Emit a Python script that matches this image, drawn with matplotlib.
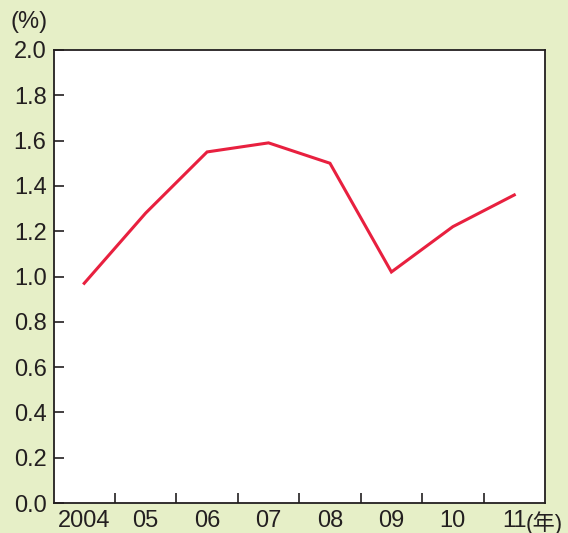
"""Line chart: yearly rate 2004-2011 (%)."""

import matplotlib
import matplotlib.pyplot as plt

matplotlib.use("Agg")

plt.rcParams["font.family"] = ["Liberation Sans", "Noto Sans CJK JP"]

YEARS = ["2004", "05", "06", "07", "08", "09", "10", "11"]
RATE = [0.97, 1.28, 1.55, 1.59, 1.50, 1.02, 1.22, 1.36]
Y_TICKS = [0.0, 0.2, 0.4, 0.6, 0.8, 1.0, 1.2, 1.4, 1.6, 1.8, 2.0]

BG = "#e6efc7"
LINE = "#e8203f"
INK = "#231f20"
FS = 17

fig = plt.figure(figsize=(5.68, 5.33), dpi=100, facecolor=BG)
ax = fig.add_axes([53.5 / 568, 1 - 503 / 533, 491.5 / 568, 453 / 533])
ax.set_facecolor("white")

x = list(range(len(YEARS)))
ax.plot(x, RATE, color=LINE, lw=2.2, solid_joinstyle="miter")

ax.set_xlim(-0.5, len(YEARS) - 0.5)
ax.set_ylim(0, 2.0)
ax.set_yticks(Y_TICKS)
ax.set_yticklabels([f"{v:.1f}" for v in Y_TICKS])
ax.set_xticks([i + 0.5 for i in range(len(YEARS) - 1)])
ax.set_xticklabels([])
ax.set_xticks(x, minor=True)
ax.set_xticklabels(YEARS, minor=True)
ax.tick_params(axis="x", which="minor", length=0, pad=5)
ax.tick_params(axis="x", which="major", direction="in", length=7, width=1.2, color=INK)
ax.tick_params(axis="y", direction="in", length=7, width=1.2, color=INK, pad=5)
ax.tick_params(which="both", labelsize=FS, labelcolor=INK)

for s in ax.spines.values():
    s.set_color(INK)
    s.set_linewidth(1.3)

ax.text(7.19, -0.0596, "(年)", transform=ax.get_xaxis_transform(), ha="left", va="baseline",
        fontsize=16, color=INK)
fig.text(10 / 568, 1 - 22 / 533, "(%)", ha="left", va="center", fontsize=FS, color=INK)

fig.savefig("out.png", dpi=100, facecolor=BG)
